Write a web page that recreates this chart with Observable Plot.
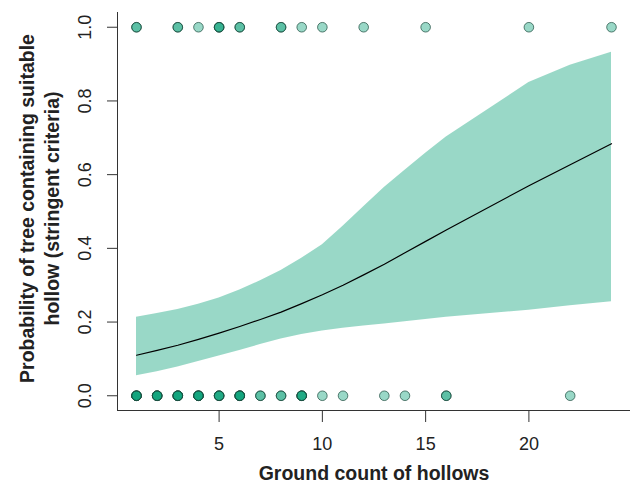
<!DOCTYPE html>
<html>
<head>
<meta charset="utf-8">
<script src="https://cdn.jsdelivr.net/npm/d3@7"></script>
<script src="https://cdn.jsdelivr.net/npm/@observablehq/plot@0.6"></script>
<style>
  html, body { margin: 0; padding: 0; background: #fff; }
  #chart svg { font-family: "Liberation Sans", Arial, sans-serif; }
</style>
</head>
<body>
<div id="chart"></div>
<script>
// Observed trees: ground count of hollows and how many trees share that value
const presentX = [1, 3, 4, 5, 6, 8, 9, 10, 12, 15, 20, 24];
const presentN = [2, 2, 1, 3, 2, 2, 1, 1, 1, 1, 1, 1];
const absentX  = [1, 2, 3, 4, 5, 6, 7, 8, 9, 10, 11, 13, 14, 16, 22];
const absentN  = [5, 5, 5, 5, 4, 5, 2, 2, 4, 1, 1, 1, 1, 2, 1];

// Fitted probability and confidence band
const gridX  = [1, 2, 3, 4, 5, 6, 7, 8, 9, 10, 11, 12, 13, 14, 15, 16, 20, 22, 24];
const fitY   = [0.110, 0.123, 0.137, 0.153, 0.170, 0.188, 0.207, 0.227, 0.250, 0.274, 0.300, 0.328, 0.357, 0.388, 0.419, 0.450, 0.570, 0.627, 0.684];
const lowY   = [0.054, 0.065, 0.078, 0.093, 0.108, 0.123, 0.139, 0.154, 0.166, 0.176, 0.183, 0.189, 0.195, 0.201, 0.207, 0.213, 0.232, 0.244, 0.255];
const highY  = [0.213, 0.223, 0.234, 0.248, 0.265, 0.287, 0.312, 0.340, 0.373, 0.410, 0.460, 0.513, 0.565, 0.612, 0.658, 0.702, 0.850, 0.897, 0.932];

const xTicks = [5, 10, 15, 20];
const yTicks = [0, 0.2, 0.4, 0.6, 0.8, 1.0];

const xTitle = "Ground count of hollows";
const yTitle = "Probability of tree containing suitable\nhollow (stringent criteria)";

const band = gridX.map((x, i) => ({x, fit: fitY[i], low: lowY[i], high: highY[i]}));
const points = [];
presentX.forEach((x, i) => { for (let k = 0; k < presentN[i]; k++) points.push({x, y: 1}); });
absentX.forEach((x, i) => { for (let k = 0; k < absentN[i]; k++) points.push({x, y: 0}); });

const green = "#009E73";

const chart = Plot.plot({
  width: 630,
  height: 488,
  marginLeft: 117,
  marginRight: 0,
  marginTop: 12,
  marginBottom: 78,
  style: { fontSize: "18px", color: "#222", background: "#fff" },
  x: { domain: [0.08, 24.92] },
  y: { domain: [-0.04, 1.04] },
  marks: [
    Plot.areaY(band, { x: "x", y1: "low", y2: "high", fill: green, fillOpacity: 0.4 }),
    Plot.lineY(band, { x: "x", y: "fit", stroke: "#000", strokeWidth: 1.2 }),
    Plot.dot(points, { x: "x", y: "y", r: 4.8, fill: green, fillOpacity: 0.4, stroke: "#1d4a3d", strokeOpacity: 0.7, strokeWidth: 1 }),
    Plot.frame({ anchor: "left", stroke: "#333" }),
    Plot.frame({ anchor: "bottom", stroke: "#333" }),
    Plot.axisX({ ticks: xTicks, tickSize: 12, tickPadding: 15, tickFormat: d => String(d), stroke: "#333", fontSize: 18, label: null }),
    Plot.axisY({ ticks: yTicks, tickSize: 10, tickFormat: () => "", stroke: "#333", label: null }),
    Plot.text(yTicks, { y: d => d, frameAnchor: "left", textAnchor: "middle", dx: -32, rotate: -90, text: d => d.toFixed(1), fontSize: 18 }),
    Plot.text([xTitle], { frameAnchor: "bottom", dy: 69, text: d => d, fontSize: 19.5, fontWeight: "bold" }),
    Plot.text([yTitle], { frameAnchor: "left", textAnchor: "middle", dx: -79, dy: -3, rotate: -90, text: d => d, fontSize: 19.5, fontWeight: "bold", lineHeight: 1.27 })
  ]
});
document.getElementById("chart").appendChild(chart);
</script>
</body>
</html>
